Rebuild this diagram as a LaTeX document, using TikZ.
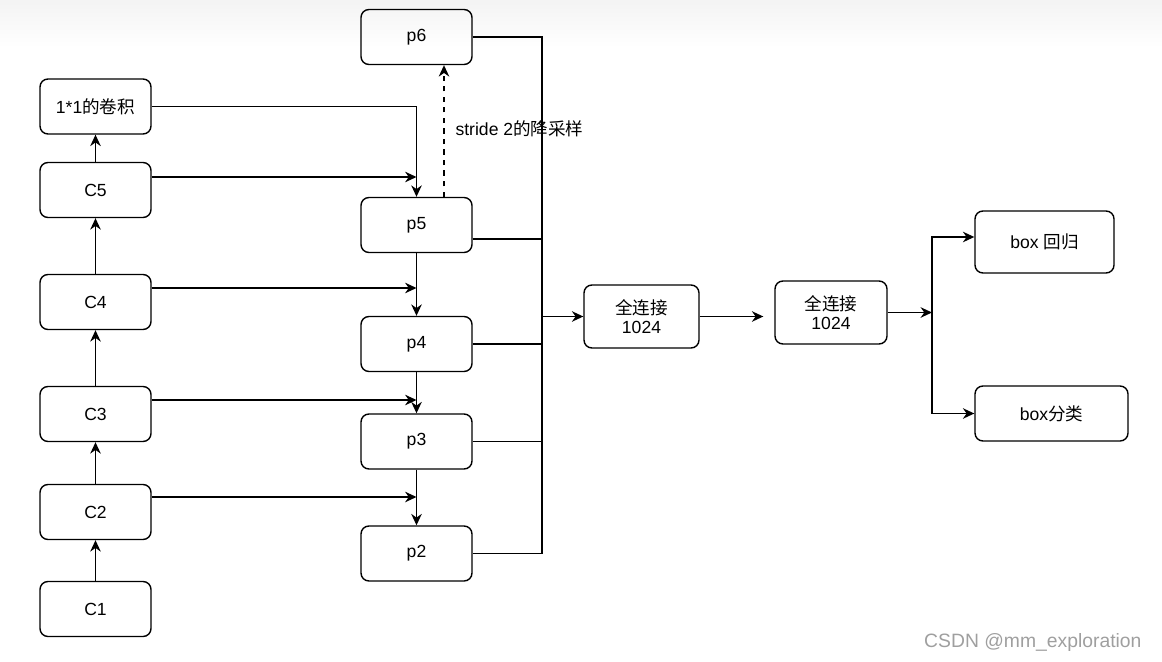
\documentclass[tikz,border=0pt]{standalone}
\usepackage{fontspec}
\setmainfont{Liberation Sans}
\newfontfamily\cjk{Noto Sans CJK SC}
\usetikzlibrary{arrows.meta}

\begin{document}
\begin{tikzpicture}[x=0.02cm,y=-0.02cm,font=\fontsize{10}{12}\selectfont,
    line width=0.8pt,
    box/.style={draw,rounded corners=4.5pt,minimum width=2.22cm,minimum height=1.1cm,inner sep=0pt,align=center},
    arr/.style={-{Stealth[length=6.5pt,width=6pt]}}]
    \useasboundingbox (0,0) rectangle (1162,662);
    \shade[top color=gray!9,bottom color=white] (0,0) rectangle (1162,48);

    % Backbone (left)
    \node[box] (conv) at (95.5,106.5) {1*1{\cjk 的卷积}};
    \node[box] (c5) at (95.5,190) {C5};
    \node[box] (c4) at (95.5,302) {C4};
    \node[box] (c3) at (95.5,414) {C3};
    \node[box] (c2) at (95.5,512) {C2};
    \node[box] (c1) at (95.5,609) {C1};
    \draw[arr] (c1) -- (c2);
    \draw[arr] (c2) -- (c3);
    \draw[arr] (c3) -- (c4);
    \draw[arr] (c4) -- (c5);
    \draw[arr] (c5) -- (conv);

    % Pyramid (middle)
    \node[box] (p6) at (416.5,37) {p6};
    \node[box] (p5) at (416.5,225) {p5};
    \node[box] (p4) at (416.5,344) {p4};
    \node[box] (p3) at (416.5,441.5) {p3};
    \node[box] (p2) at (416.5,553.5) {p2};
    \coordinate (j5) at (416.5,177);
    \coordinate (j4) at (416.5,288);
    \coordinate (j3) at (416.5,400);
    \coordinate (j2) at (416.5,497);
    \draw[arr] (conv.east) -| (p5.north);
    \draw[arr] (c5.east |- j5) -- (j5);
    \draw[arr] (c4.east |- j4) -- (j4);
    \draw[arr] (c3.east |- j3) -- (j3);
    \draw[arr] (c2.east |- j2) -- (j2);
    \draw[arr] (p5) -- (p4);
    \draw[arr] (p4) -- (p3);
    \draw[arr] (p3) -- (p2);
    \draw[arr,dashed] ([xshift=0.55cm]p5.north) -- ([xshift=0.55cm]p6.south);
    \node[anchor=west] (down) at (449,129) {stride 2{\cjk 的降采样}};

    % Collecting line
    \coordinate (bus) at (542,316.5);
    \draw (p6.east) -- (p6.east -| bus) -- (p2.east -| bus) -- (p2.east);
    \draw ([yshift=-0.28cm]p5.east) -- ([yshift=-0.28cm]p5.east -| bus);
    \draw (p4.east) -- (p4.east -| bus);
    \draw (p3.east) -- (p3.east -| bus);

    % Head (right)
    \node[box,minimum width=2.3cm,minimum height=1.26cm] (fc1) at (641.5,316.5) {{\cjk 全连接}\\[-1.5pt]1024};
    \node[box,minimum width=2.24cm,minimum height=1.26cm] (fc2) at (831,312.5) {{\cjk 全连接}\\[-1.5pt]1024};
    \node[box,minimum width=2.78cm,minimum height=1.24cm] (reg) at (1044.5,242) {box {\cjk 回归}};
    \node[box,minimum width=3.06cm] (cls) at (1051.5,413.5) {box{\cjk 分类}};
    \coordinate (split) at (932,312.5);
    \draw[arr] (bus) -- (fc1.west);
    \draw[arr,shorten >=0.22cm] (fc1.east) -- (fc1.east -| fc2.west);
    \draw[arr] (fc2.east) -- (split);
    \draw[arr] (split) |- ([yshift=0.1cm]reg.west);
    \draw[arr] (split) |- (cls.west);

    \node[anchor=east,text=gray!75,font=\fontsize{11}{13}\selectfont] (mark) at (1148,642) {CSDN @mm\_exploration};
\end{tikzpicture}
\end{document}
